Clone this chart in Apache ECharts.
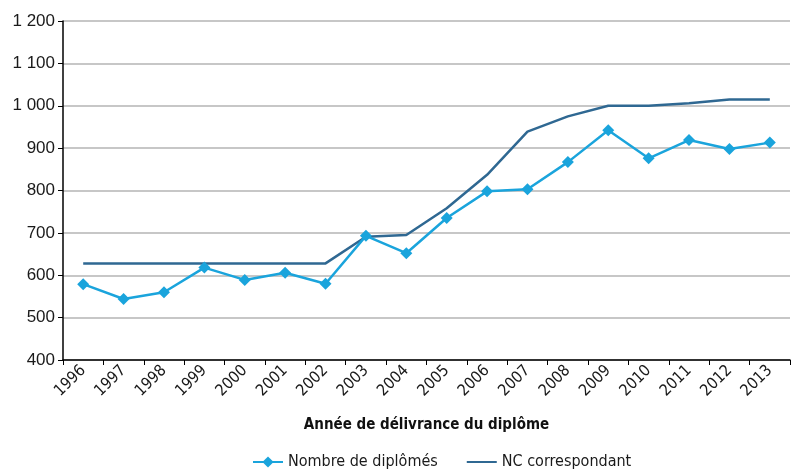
<!DOCTYPE html>
<html>
<head>
<meta charset="utf-8">
<script src="https://cdn.jsdelivr.net/npm/echarts@6/dist/echarts.min.js"></script>
<style>
  html, body { margin: 0; padding: 0; background: #fff; }
  #chart { width: 791px; height: 469px; }
</style>
</head>
<body>
<div id="chart"></div>
<script>
const years = ['1996', '1997', '1998', '1999', '2000', '2001', '2002', '2003', '2004',
  '2005', '2006', '2007', '2008', '2009', '2010', '2011', '2012', '2013'];
const diplomes = [579, 544, 560, 618, 589, 606, 580, 693, 652, 735, 798, 803, 867, 942, 876, 919, 898, 913];
const ncCorrespondant = [628, 628, 628, 628, 628, 628, 628, 691, 695, 758, 837, 939, 975, 1000, 1000, 1006, 1015, 1015];

const narrow = '"DejaVu Sans Condensed", "Liberation Sans Narrow", sans-serif';

const chart = echarts.init(document.getElementById('chart'));
chart.setOption({
  animation: false,
  grid: { left: 63, right: 1, top: 21, bottom: 109 },
  legend: {
    top: 449,
    left: 247,
    itemGap: 28,
    itemWidth: 30,
    itemHeight: 14,
    textStyle: { fontFamily: narrow, fontSize: 16, color: '#1a1a1a' },
    data: [
      { name: 'Nombre de diplômés' },
      { name: 'NC correspondant', itemStyle: { opacity: 0 } }
    ]
  },
  xAxis: {
    type: 'category',
    data: years,
    boundaryGap: true,
    name: 'Année de délivrance du diplôme',
    nameLocation: 'middle',
    nameGap: 58,
    nameTextStyle: { fontFamily: narrow, fontSize: 15, fontWeight: 'bold', color: '#111' },
    axisLine: { lineStyle: { color: '#000', width: 1.5 } },
    axisTick: { show: true, length: 5, lineStyle: { color: '#000' } },
    axisLabel: { rotate: 45, fontFamily: narrow, fontSize: 16, color: '#1a1a1a', margin: 8, interval: 0 }
  },
  yAxis: {
    type: 'value',
    min: 400,
    max: 1200,
    interval: 100,
    axisLine: { show: true, lineStyle: { color: '#000', width: 1.5 } },
    axisTick: { show: true, length: 5, lineStyle: { color: '#000' } },
    axisLabel: {
      fontFamily: '"Liberation Sans", Arial, sans-serif',
      fontSize: 17,
      color: '#1a1a1a',
      margin: 8,
      formatter: v => String(v).replace(/\B(?=(\d{3})+(?!\d))/g, ' ')
    },
    splitLine: { lineStyle: { color: '#b4b4b4', width: 1.5 } }
  },
  series: [
    {
      name: 'Nombre de diplômés',
      type: 'line',
      data: diplomes,
      symbol: 'diamond',
      symbolSize: 12,
      lineStyle: { color: '#1aa4dc', width: 2.5 },
      itemStyle: { color: '#1aa4dc' },
      z: 3
    },
    {
      name: 'NC correspondant',
      type: 'line',
      data: ncCorrespondant,
      symbol: 'none',
      lineStyle: { color: '#2f6892', width: 2.5 },
      itemStyle: { color: '#2f6892' },
      z: 2
    }
  ]
});
</script>
</body>
</html>
